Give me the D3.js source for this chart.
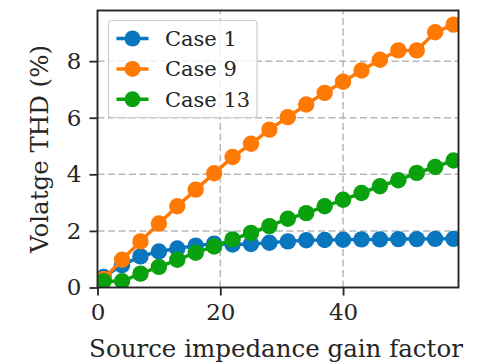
<!DOCTYPE html>
<html>
<head>
<meta charset="utf-8">
<script src="https://cdn.jsdelivr.net/npm/d3@7"></script>
<style>
  html, body { margin: 0; padding: 0; background: #fff; }
  svg { display: block; }
  text { font-family: "DejaVu Serif", serif; fill: #262626; }
</style>
</head>
<body>
<svg id="chart" width="487" height="364"></svg>
<script>
// Source impedance gain factor (x) sampled every 3 steps
const gainFactor = [1, 4, 7, 10, 13, 16, 19, 22, 25, 28, 31, 34, 37, 40, 43, 46, 49, 52, 55, 58];

// Voltage THD (%) for each case
const case1 = [0.37, 0.79, 1.10, 1.27, 1.38, 1.48, 1.55, 1.52, 1.54, 1.58, 1.63, 1.67, 1.68, 1.69, 1.70, 1.70, 1.71, 1.71, 1.72, 1.72];
const case9 = [0.30, 0.98, 1.63, 2.26, 2.87, 3.46, 4.04, 4.61, 5.08, 5.58, 6.02, 6.47, 6.88, 7.27, 7.67, 8.05, 8.38, 8.38, 9.02, 9.29];
const case13 = [0.22, 0.22, 0.49, 0.73, 0.98, 1.23, 1.45, 1.70, 1.93, 2.17, 2.43, 2.63, 2.87, 3.10, 3.34, 3.58, 3.79, 4.05, 4.26, 4.49];

const seriesNames = ["Case 1", "Case 9", "Case 13"];
const seriesColors = ["#0a76be", "#ff7a05", "#0aa10e"];

const xTicks = [0, 20, 40];
const yTicks = [0, 2, 4, 6, 8];

const xLabel = "Source impedance gain factor";
const yLabel = "Volatge THD (%)";

const svg = d3.select("#chart");
const W = 487, H = 364;
const margin = { left: 97.5, right: W - 458.5, top: 10.5, bottom: H - 287.5 };
const xMax = 58.8, yMax = 9.79;

const x = d3.scaleLinear().domain([0, xMax]).range([margin.left, W - margin.right]);
const y = d3.scaleLinear().domain([0, yMax]).range([H - margin.bottom, margin.top]);

// Clip marks to the axes box
svg.append("defs").append("clipPath").attr("id", "plotClip")
  .append("rect")
  .attr("x", x(0)).attr("y", y(yMax))
  .attr("width", x(xMax) - x(0)).attr("height", y(0) - y(yMax));

// Dashed grid
const grid = svg.append("g")
  .attr("stroke", "#b8b8b8").attr("stroke-width", 1.5).attr("stroke-dasharray", "7,3.5");
grid.selectAll("line.gx").data(xTicks.filter(d => d > 0)).join("line")
  .attr("class", "gx")
  .attr("x1", d => x(d)).attr("x2", d => x(d))
  .attr("y1", y(0)).attr("y2", y(yMax));
grid.selectAll("line.gy").data(yTicks.filter(d => d > 0)).join("line")
  .attr("class", "gy")
  .attr("y1", d => y(d)).attr("y2", d => y(d))
  .attr("x1", x(0)).attr("x2", x(xMax));

// Series: connecting line plus round markers
const allSeries = [case1, case9, case13];
const line = d3.line().x((d, i) => x(gainFactor[i])).y(d => y(d));
const marks = svg.append("g").attr("clip-path", "url(#plotClip)");
allSeries.forEach((vals, k) => {
  const g = marks.append("g");
  g.append("path").datum(vals)
    .attr("d", line).attr("fill", "none")
    .attr("stroke", seriesColors[k]).attr("stroke-width", 3.5);
  g.selectAll("circle").data(vals).join("circle")
    .attr("cx", (d, i) => x(gainFactor[i])).attr("cy", d => y(d))
    .attr("r", 8.2).attr("fill", seriesColors[k]);
});

// Axes
const xAxis = d3.axisBottom(x).tickValues(xTicks).tickSize(8).tickPadding(8);
const yAxis = d3.axisLeft(y).tickValues(yTicks).tickSize(8).tickPadding(8);
const gx = svg.append("g").attr("transform", `translate(0,${y(0)})`).call(xAxis);
const gy = svg.append("g").attr("transform", `translate(${x(0)},0)`).call(yAxis);
[gx, gy].forEach(g => {
  g.select(".domain").remove();
  g.selectAll("line").attr("stroke", "#262626").attr("stroke-width", 1.8);
  g.selectAll("text").style("font-family", "DejaVu Serif").style("font-size", "23px").attr("fill", "#262626");
});

// Frame
svg.append("rect")
  .attr("x", x(0)).attr("y", y(yMax))
  .attr("width", x(xMax) - x(0)).attr("height", y(0) - y(yMax))
  .attr("fill", "none").attr("stroke", "#262626").attr("stroke-width", 1.9);

// Axis labels
svg.append("text")
  .attr("x", (x(0) + x(xMax)) / 2 - 2).attr("y", 357)
  .attr("text-anchor", "middle").style("font-size", "24.5px")
  .text(xLabel);
svg.append("text")
  .attr("transform", `translate(48,${(y(0) + y(yMax)) / 2}) rotate(-90)`)
  .attr("text-anchor", "middle").style("font-size", "24.5px")
  .text(yLabel);

// Legend
const lg = svg.append("g");
lg.append("rect")
  .attr("x", 108.5).attr("y", 20.5).attr("width", 148.5).attr("height", 97).attr("rx", 3)
  .attr("fill", "#fff").attr("fill-opacity", 0.8).attr("stroke", "#cccccc").attr("stroke-width", 1.2);
seriesNames.forEach((name, k) => {
  const cy = 38.5 + k * 30.4;
  lg.append("line").attr("x1", 116.5).attr("x2", 148.5).attr("y1", cy).attr("y2", cy)
    .attr("stroke", seriesColors[k]).attr("stroke-width", 3.5);
  lg.append("circle").attr("cx", 132.5).attr("cy", cy).attr("r", 8).attr("fill", seriesColors[k]);
  lg.append("text").attr("x", 165).attr("y", cy).attr("dy", "0.36em")
    .style("font-size", "21px").text(name);
});
</script>
</body>
</html>
